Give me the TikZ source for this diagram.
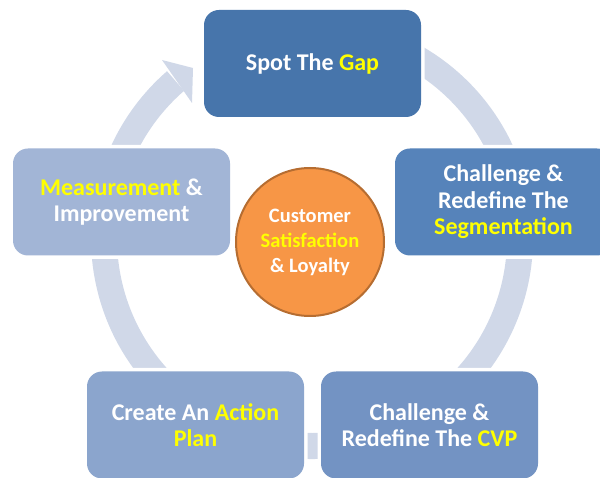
\documentclass[tikz,border=0pt]{standalone}
\usepackage{fontspec}
\setmainfont{Carlito}
\definecolor{ringc}{RGB}{208,216,232}
\definecolor{boxa}{RGB}{71,117,171}
\definecolor{boxb}{RGB}{86,131,186}
\definecolor{boxc}{RGB}{115,147,195}
\definecolor{boxd}{RGB}{139,165,205}
\definecolor{boxe}{RGB}{162,181,214}
\definecolor{orangefill}{RGB}{247,150,70}
\definecolor{orangeline}{RGB}{182,109,49}
\definecolor{hlyellow}{RGB}{255,255,0}
\newcommand\hlw[1]{\textcolor{hlyellow}{#1}}
\begin{document}
\begin{tikzpicture}[x=1pt,y=1pt,
  stagebox/.style={rounded corners=15pt, minimum width=217pt, minimum height=107pt,
    inner sep=0pt, align=center, text=white,
    font=\fontsize{24}{26.5}\selectfont\bfseries,
    preaction={draw=white, line width=7pt}},
  hub/.style={circle, minimum size=148pt, inner sep=0pt, align=center, text=white,
    fill=orangefill, draw=orangeline, line width=2pt,
    font=\fontsize{20.5}{25}\selectfont\bfseries}]
\useasboundingbox (0,0) rectangle (600,477);
% ring with arrow
\coordinate (rc) at (312,239);
\fill[ringc] ([shift={(100:221)}]rc) arc[start angle=100, end angle=-229, radius=221]
  -- ([shift={(131:195)}]rc) arc[start angle=131, end angle=460, radius=195] -- cycle;
\coordinate (hb1) at (162,417);
\coordinate (ht) at (193,409);
\coordinate (hb2) at (192,374);
\fill[ringc] (hb1) -- (ht) -- (hb2) -- cycle;
% boxes
\node[stagebox, fill=boxa] (gap) at (312.5,413.5) {Spot The \hlw{Gap}};
\node[stagebox, fill=boxb] (seg) at (503.5,275) {Challenge \&\\Redefine The\\\hlw{Segmentation}};
\node[stagebox, fill=boxc] (cvp) at (429.5,52) {Challenge \&\\Redefine The \hlw{CVP}};
\node[stagebox, fill=boxd] (act) at (195.5,52) {Create An \hlw{Action}\\\hlw{Plan}};
\node[stagebox, fill=boxe] (meas) at (121.5,275) {\hlw{Measurement} \&\\Improvement};
\node[hub] (cust) at (310,235) {Customer\\\hlw{Satisfaction}\\\& Loyalty};
\end{tikzpicture}
\end{document}
